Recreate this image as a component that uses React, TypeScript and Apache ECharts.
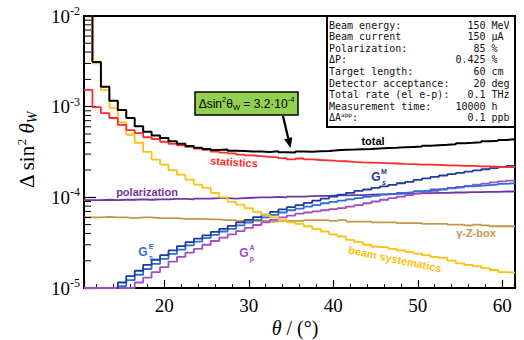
import React, { useEffect, useRef } from 'react';
import * as echarts from 'echarts';

// ---- data -------------------------------------------------------------
const xMin = 10.5;
const xMax = 61.5;
// 1° wide bins, centred on 11 … 61
const binCenters = [
  11, 12, 13, 14, 15, 16, 17, 18, 19, 20, 21, 22, 23, 24, 25, 26, 27, 28, 29, 30,
  31, 32, 33, 34, 35, 36, 37, 38, 39, 40, 41, 42, 43, 44, 45, 46, 47, 48, 49, 50,
  51, 52, 53, 54, 55, 56, 57, 58, 59, 60, 61,
];

const total = [
  2e-2, 3.1e-3, 1.66e-3, 1.16e-3, 9.2e-4, 7.5e-4, 6.1e-4, 5.3e-4, 4.8e-4, 4.5e-4,
  4.15e-4, 3.9e-4, 3.68e-4, 3.52e-4, 3.42e-4, 3.32e-4, 3.36e-4, 3.26e-4, 3.24e-4, 3.2e-4,
  3.2e-4, 3.17e-4, 3.22e-4, 3.15e-4, 3.13e-4, 3.2e-4, 3.18e-4, 3.22e-4, 3.25e-4, 3.3e-4,
  3.34e-4, 3.36e-4, 3.4e-4, 3.42e-4, 3.46e-4, 3.5e-4, 3.52e-4, 3.56e-4, 3.6e-4, 3.63e-4,
  3.7e-4, 3.75e-4, 3.8e-4, 3.86e-4, 3.95e-4, 4.0e-4, 4.06e-4, 4.15e-4, 4.22e-4, 4.3e-4, 4.36e-4,
];
const statistics = [
  1.53e-3, 9.9e-4, 8.5e-4, 7.5e-4, 6.3e-4, 5.5e-4, 5.1e-4, 4.6e-4, 4.4e-4, 4.1e-4,
  3.9e-4, 3.75e-4, 3.6e-4, 3.45e-4, 3.33e-4, 3.2e-4, 3.12e-4, 3.05e-4, 2.96e-4, 2.9e-4,
  2.85e-4, 2.8e-4, 2.76e-4, 2.7e-4, 2.62e-4, 2.68e-4, 2.62e-4, 2.58e-4, 2.55e-4, 2.52e-4,
  2.5e-4, 2.46e-4, 2.43e-4, 2.42e-4, 2.4e-4, 2.38e-4, 2.36e-4, 2.34e-4, 2.33e-4, 2.3e-4,
  2.3e-4, 2.28e-4, 2.26e-4, 2.25e-4, 2.22e-4, 2.22e-4, 2.2e-4, 2.2e-4, 2.18e-4, 2.16e-4, 2.15e-4,
];
const beamSystematics = [
  2e-2, 3.0e-3, 1.52e-3, 9.7e-4, 6.7e-4, 4.9e-4, 4.0e-4, 3.17e-4, 2.6e-4, 2.3e-4,
  2.0e-4, 1.78e-4, 1.57e-4, 1.38e-4, 1.27e-4, 1.12e-4, 1.0e-4, 8.9e-5, 8.3e-5, 7.6e-5,
  6.9e-5, 6.4e-5, 6.0e-5, 5.6e-5, 5.3e-5, 5.1e-5, 4.8e-5, 4.5e-5, 4.2e-5, 3.9e-5,
  3.7e-5, 3.4e-5, 3.2e-5, 3.0e-5, 2.85e-5, 2.8e-5, 2.7e-5, 2.6e-5, 2.5e-5, 2.4e-5,
  2.3e-5, 2.2e-5, 2.15e-5, 2.0e-5, 1.87e-5, 1.8e-5, 1.74e-5, 1.66e-5, 1.58e-5, 1.5e-5, 1.48e-5,
];
const polarization = [
  9.3e-5, 9.3e-5, 9.4e-5, 9.3e-5, 9.4e-5, 9.4e-5, 9.5e-5, 9.4e-5, 9.5e-5, 9.5e-5,
  9.6e-5, 9.6e-5, 9.5e-5, 9.7e-5, 9.7e-5, 9.8e-5, 9.8e-5, 9.7e-5, 9.8e-5, 9.9e-5,
  1.0e-4, 1.0e-4, 1.01e-4, 1.0e-4, 1.02e-4, 1.02e-4, 1.03e-4, 1.04e-4, 1.04e-4, 1.05e-4,
  1.05e-4, 1.06e-4, 1.06e-4, 1.07e-4, 1.08e-4, 1.08e-4, 1.09e-4, 1.1e-4, 1.1e-4, 1.11e-4,
  1.11e-4, 1.12e-4, 1.12e-4, 1.13e-4, 1.13e-4, 1.14e-4, 1.14e-4, 1.15e-4, 1.15e-4, 1.16e-4, 1.16e-4,
];
const gammaZBox = [
  6.0e-5, 6.0e-5, 6.1e-5, 6.0e-5, 6.0e-5, 5.9e-5, 6.0e-5, 6.0e-5, 5.9e-5, 5.9e-5,
  5.9e-5, 5.8e-5, 5.8e-5, 5.8e-5, 5.7e-5, 5.7e-5, 5.6e-5, 5.6e-5, 5.5e-5, 5.5e-5,
  5.5e-5, 5.5e-5, 5.4e-5, 5.5e-5, 5.5e-5, 5.5e-5, 5.6e-5, 5.6e-5, 5.6e-5, 5.5e-5,
  5.6e-5, 5.4e-5, 5.4e-5, 5.4e-5, 5.3e-5, 5.3e-5, 5.3e-5, 5.2e-5, 5.2e-5, 5.2e-5,
  5.1e-5, 5.1e-5, 5.1e-5, 5.0e-5, 5.0e-5, 4.9e-5, 5.0e-5, 4.9e-5, 4.8e-5, 4.8e-5, 4.8e-5,
];
const gsE = [
  8e-6, 8e-6, 8e-6, 8e-6, 1.05e-5, 1.22e-5, 1.4e-5, 1.62e-5, 1.85e-5, 2.1e-5,
  2.38e-5, 2.65e-5, 2.95e-5, 3.25e-5, 3.55e-5, 3.85e-5, 4.2e-5, 4.5e-5, 4.9e-5, 5.25e-5,
  5.6e-5, 6.0e-5, 6.4e-5, 6.8e-5, 7.2e-5, 7.5e-5, 7.9e-5, 8.2e-5, 8.6e-5, 8.9e-5,
  9.2e-5, 9.5e-5, 9.8e-5, 1.01e-4, 1.04e-4, 1.07e-4, 1.09e-4, 1.12e-4, 1.14e-4, 1.17e-4,
  1.19e-4, 1.22e-4, 1.24e-4, 1.27e-4, 1.29e-4, 1.32e-4, 1.34e-4, 1.36e-4, 1.38e-4, 1.41e-4, 1.43e-4,
];
const gsM = [
  8e-6, 8e-6, 8e-6, 9e-6, 1.15e-5, 1.35e-5, 1.55e-5, 1.8e-5, 2.05e-5, 2.3e-5,
  2.6e-5, 2.9e-5, 3.2e-5, 3.5e-5, 3.8e-5, 4.15e-5, 4.5e-5, 4.85e-5, 5.3e-5, 5.65e-5,
  6.05e-5, 6.45e-5, 6.9e-5, 7.35e-5, 7.8e-5, 8.2e-5, 8.7e-5, 9.2e-5, 9.7e-5, 1.02e-4,
  1.07e-4, 1.12e-4, 1.18e-4, 1.22e-4, 1.27e-4, 1.32e-4, 1.37e-4, 1.43e-4, 1.48e-4, 1.56e-4,
  1.62e-4, 1.68e-4, 1.74e-4, 1.8e-4, 1.86e-4, 1.92e-4, 1.98e-4, 2.04e-4, 2.1e-4, 2.17e-4, 2.22e-4,
];
const gpA = [
  1e-5, 1e-5, 1e-5, 1e-5, 1e-5, 1e-5, 1.15e-5, 1.3e-5, 1.5e-5, 1.7e-5,
  1.95e-5, 2.2e-5, 2.45e-5, 2.7e-5, 3.0e-5, 3.3e-5, 3.6e-5, 3.9e-5, 4.25e-5, 4.6e-5,
  4.95e-5, 5.3e-5, 5.65e-5, 6.0e-5, 6.3e-5, 6.6e-5, 6.8e-5, 7.0e-5, 7.2e-5, 7.4e-5,
  7.6e-5, 7.9e-5, 8.2e-5, 8.6e-5, 9.0e-5, 9.4e-5, 9.8e-5, 1.02e-4, 1.06e-4, 1.1e-4,
  1.14e-4, 1.18e-4, 1.22e-4, 1.26e-4, 1.3e-4, 1.34e-4, 1.38e-4, 1.42e-4, 1.46e-4, 1.5e-4, 1.53e-4,
];

const yMin = 1e-5;
const yMax = 1e-2;
const yDecades = [1e-5, 1e-4, 1e-3];
const minorMultipliers = [2, 3, 4, 5, 6, 7, 8, 9];

const infoLabels = [
  '{m|Beam energy:}', '{m|Beam current}', '{m|Polarization:}', '{m|ΔP:}',
  '{m|Target length:}', '{m|Detector acceptance:}', '{m|Total rate (el e-p):}',
  '{m|Measurement time:}', '{m|ΔA}{sup|app}{m|:}',
];
const infoValues = ['150', '150', '85', '0.425', '60', '20', '0.1', '10000', '0.1'];
const infoUnits = ['MeV', 'µA', '%', '%', 'cm', 'deg', 'THz', 'h', 'ppb'];

// ---- styles -----------------------------------------------------------
const SERIF = 'Liberation Serif';
const SANS = 'Liberation Sans';
const MONO = 'DejaVu Sans Mono';

const C_TOTAL = '#000000';
const C_STAT = '#FF2B2B';
const C_BEAM = '#FFC20E';
const C_POL = '#6F35A8';
const C_BOX = '#C4964A';
const C_GSE = '#2F6FD4';
const C_GSM = '#1E3C9A';
const C_GPA = '#A24CC6';

function stepData(vals: number[]) {
  const pts: number[][] = binCenters.map((c, i) => [c - 0.5, vals[i]]);
  pts.push([binCenters[binCenters.length - 1] + 0.5, vals[vals.length - 1]]);
  return pts;
}

function stepSeries(name: string, vals: number[], color: string, z: number, width = 1.8) {
  return {
    name,
    type: 'line',
    step: 'end',
    data: stepData(vals),
    symbol: 'none',
    showSymbol: false,
    silent: true,
    clip: true,
    z,
    lineStyle: { color, width },
    itemStyle: { color },
  };
}

function txt(x: number, y: number, text: string, style: any, extra: any = {}) {
  return {
    type: 'text',
    x,
    y,
    z: 100,
    silent: true,
    ...extra,
    style: {
      text,
      align: 'center',
      verticalAlign: 'middle',
      textAlign: 'center',
      textVerticalAlign: 'middle',
      ...style,
    },
  };
}

function gLabel(x: number, y: number, sup: string, sub: string, color: string) {
  return [
    txt(x, y, 'G', { fontFamily: SANS, fontWeight: 'bold', fontSize: 12, fill: color }),
    txt(x + 8, y - 6, sup, { fontFamily: SANS, fontWeight: 'bold', fontSize: 7, fill: color }),
    txt(x + 8, y + 5, sub, { fontFamily: SANS, fontWeight: 'bold', fontSize: 7, fill: color }),
  ];
}

export default function App() {
  const ref = useRef<HTMLDivElement>(null);

  useEffect(() => {
    document.body.style.margin = '0';
    if (!ref.current) return;
    const chart = echarts.init(ref.current, undefined, { renderer: 'svg' });

    const minorData: number[][] = [];
    yDecades.forEach((d) => minorMultipliers.forEach((m) => minorData.push([xMin, d * m])));

    // info box rows
    const rowY0 = 25;
    const rowDy = 11.6;
    const colX = 329;
    const cw = 6.02;
    const info: any[] = [
      {
        type: 'rect',
        z: 90,
        silent: true,
        shape: { x: 327, y: 16, width: 188, height: 111 },
        style: { fill: '#fff', stroke: '#000', lineWidth: 2 },
      },
    ];
    infoLabels.forEach((lab, i) => {
      const y = rowY0 + i * rowDy;
      info.push(
        txt(colX, y, lab, {
          align: 'left',
          textAlign: 'left',
          rich: {
            m: { fontFamily: MONO, fontSize: 10, fill: '#111', lineHeight: 12 },
            sup: { fontFamily: MONO, fontSize: 6, fill: '#111', verticalAlign: 'top', lineHeight: 8 },
          },
        }),
      );
      info.push(
        txt(colX + 26 * cw, y, infoValues[i], {
          align: 'right',
          textAlign: 'right',
          fontFamily: MONO,
          fontSize: 10,
          fill: '#111',
        }),
      );
      info.push(
        txt(colX + 27 * cw, y, infoUnits[i], {
          align: 'left',
          textAlign: 'left',
          fontFamily: MONO,
          fontSize: 10,
          fill: '#111',
        }),
      );
    });

    // arrow
    const tail = [283, 116];
    const tip = [290.5, 148];
    const dx = tip[0] - tail[0];
    const dy = tip[1] - tail[1];
    const len = Math.sqrt(dx * dx + dy * dy);
    const ux = dx / len;
    const uy = dy / len;
    const hl = 10;
    const hw = 4.2;
    const bx = tip[0] - ux * hl;
    const by = tip[1] - uy * hl;

    const graphics: any[] = [
      ...info,
      // annotation box
      {
        type: 'rect',
        z: 95,
        silent: true,
        shape: { x: 195, y: 92, width: 103, height: 23 },
        style: { fill: '#92D050', stroke: '#000', lineWidth: 1.5 },
      },
      txt(246.5, 103.5, '{a|Δsin}{sup|2}{a|θ}{sub|W}{a| = 3.2·10}{sup|-4}', {
        rich: {
          a: { fontFamily: SANS, fontSize: 12, fill: '#000', lineHeight: 16 },
          sup: { fontFamily: SANS, fontSize: 7.5, fill: '#000', verticalAlign: 'top', lineHeight: 9 },
          sub: { fontFamily: SANS, fontSize: 7.5, fill: '#000', verticalAlign: 'bottom', lineHeight: 9 },
        },
      }, { z: 96 }),
      {
        type: 'line',
        z: 96,
        silent: true,
        shape: { x1: tail[0], y1: tail[1], x2: bx, y2: by },
        style: { stroke: '#000', lineWidth: 2.2 },
      },
      {
        type: 'polygon',
        z: 96,
        silent: true,
        shape: {
          points: [
            [tip[0], tip[1]],
            [bx - uy * hw, by + ux * hw],
            [bx + uy * hw, by - ux * hw],
          ],
        },
        style: { fill: '#000' },
      },
      // series labels
      txt(373, 141, 'total', { fontFamily: SANS, fontWeight: 'bold', fontSize: 11, fill: C_TOTAL }),
      txt(234, 162, 'statistics', { fontFamily: SANS, fontWeight: 'bold', fontSize: 11, fill: C_STAT }, { rotation: -0.06 }),
      txt(147, 192, 'polarization', { fontFamily: SANS, fontWeight: 'bold', fontSize: 11, fill: C_POL }),
      txt(476, 233, 'γ-Z-box', { fontFamily: SANS, fontWeight: 'bold', fontSize: 11, fill: C_BOX }),
      txt(395, 259, 'beam systematics', { fontFamily: SANS, fontWeight: 'bold', fontSize: 11, fill: C_BEAM }, { rotation: -0.2 }),
      ...gLabel(376, 177, 'M', 's', C_GSM),
      ...gLabel(143, 252, 'E', 's', C_GSE),
      ...gLabel(244, 253, 'A', 'p', C_GPA),
      // axis titles
      txt(27, 150, '{n|Δ sin}{s|2}{n| }{i|θ}{w|W}', {
        rich: {
          n: { fontFamily: SERIF, fontSize: 21, fill: '#000', lineHeight: 24 },
          s: { fontFamily: SERIF, fontSize: 13, fill: '#000', verticalAlign: 'top', lineHeight: 14 },
          i: { fontFamily: SERIF, fontSize: 21, fontStyle: 'italic', fill: '#000', lineHeight: 24 },
          w: { fontFamily: SERIF, fontSize: 14, fontStyle: 'italic', fill: '#000', verticalAlign: 'bottom', lineHeight: 14 },
        },
      }, { rotation: Math.PI / 2 }),
      txt(295, 328, '{i|θ}{n| / (°)}', {
        rich: {
          n: { fontFamily: SERIF, fontSize: 20, fill: '#000' },
          i: { fontFamily: SERIF, fontSize: 20, fontStyle: 'italic', fill: '#000' },
        },
      }),
    ];

    const option: any = {
      animation: false,
      backgroundColor: '#fff',
      textStyle: { fontFamily: SERIF },
      grid: {
        left: 84,
        right: 9,
        top: 16,
        bottom: 52,
        show: true,
        borderColor: '#000',
        borderWidth: 2,
        backgroundColor: 'transparent',
        containLabel: false,
      },
      xAxis: {
        type: 'value',
        min: xMin,
        max: xMax,
        splitNumber: 5,
        axisLine: { show: true, lineStyle: { color: '#000', width: 2 } },
        axisTick: { show: true, inside: true, length: 8, lineStyle: { color: '#000', width: 1.2 } },
        minorTick: { show: true, splitNumber: 5, length: 4, lineStyle: { color: '#000', width: 1 } },
        splitLine: { show: false },
        minorSplitLine: { show: false },
        axisLabel: {
          color: '#000',
          fontFamily: SERIF,
          fontSize: 19,
          margin: 8,
          showMinLabel: false,
          showMaxLabel: false,
        },
      },
      yAxis: {
        type: 'log',
        logBase: 10,
        min: yMin,
        max: yMax,
        splitNumber: 3,
        axisLine: { show: true, lineStyle: { color: '#000', width: 2 } },
        axisTick: { show: true, inside: true, length: 12, lineStyle: { color: '#000', width: 1.2 } },
        minorTick: { show: false },
        splitLine: { show: false },
        axisLabel: {
          margin: 4,
          formatter: (v: number) => `{b|10}{s|${Math.round(Math.log10(v))}}`,
          rich: {
            b: { fontFamily: SERIF, fontSize: 19, color: '#000', lineHeight: 22 },
            s: { fontFamily: SERIF, fontSize: 12, color: '#000', verticalAlign: 'top', lineHeight: 12 },
          },
        },
      },
      series: [
        {
          type: 'custom',
          silent: true,
          z: 5,
          clip: false,
          data: minorData,
          renderItem: (_p: any, api: any) => {
            const p = api.coord([api.value(0), api.value(1)]);
            return {
              type: 'line',
              shape: { x1: p[0], y1: p[1], x2: p[0] + 7, y2: p[1] },
              style: { stroke: '#000', lineWidth: 1 },
            };
          },
        },
        stepSeries('γ-Z-box', gammaZBox, C_BOX, 2),
        stepSeries('polarization', polarization, C_POL, 3),
        stepSeries('G_p^A', gpA, C_GPA, 4),
        stepSeries('G_s^E', gsE, C_GSE, 5),
        stepSeries('G_s^M', gsM, C_GSM, 6),
        stepSeries('beam systematics', beamSystematics, C_BEAM, 7),
        stepSeries('statistics', statistics, C_STAT, 8),
        stepSeries('total', total, C_TOTAL, 9, 2),
      ],
      graphic: { elements: graphics },
    };

    chart.setOption(option);
    return () => chart.dispose();
  }, []);

  return <div ref={ref} style={{ width: 524, height: 340 }} />;
}
